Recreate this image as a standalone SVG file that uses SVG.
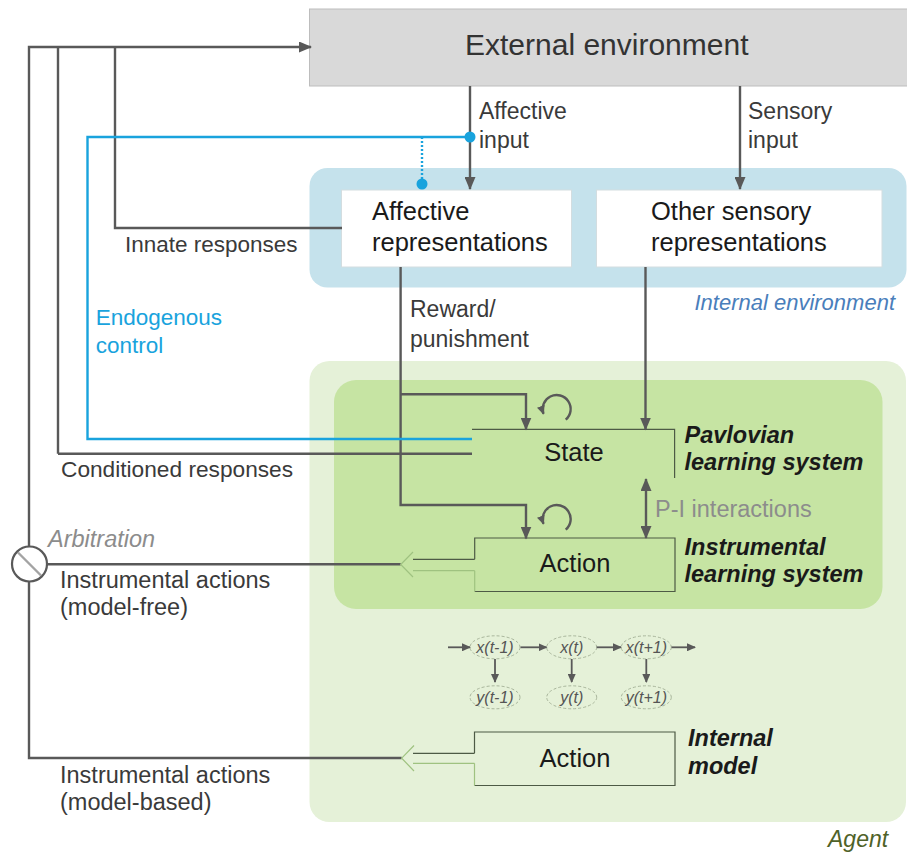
<svg xmlns="http://www.w3.org/2000/svg" width="907" height="857" viewBox="0 0 907 857">
<style>
text{font-family:"Liberation Sans",Arial,sans-serif;fill:#3a3a3a}
.lbl{font-size:23px}
.box{font-size:25.5px;fill:#1a1a1a}
.bi{font-size:23.5px;font-weight:bold;font-style:italic;fill:#1a1a1a}
.it{font-style:italic}
.conn{fill:none;stroke:#595959;stroke-width:2.4}
.blue{fill:none;stroke:#19a3dd;stroke-width:2.4}
.thin{fill:none;stroke:#4d5a45;stroke-width:1.2}
.light{fill:none;stroke:#9fc280;stroke-width:1.2}
.hmm{fill:none;stroke:#595959;stroke-width:1.8}
.ell{fill:none;stroke:#a9b69c;stroke-width:1;stroke-dasharray:3 2}
.ht{font-size:16px;font-style:italic;fill:#555;text-anchor:middle}
</style>
<defs>
<marker id="ah" markerUnits="userSpaceOnUse" markerWidth="13" markerHeight="11" refX="12" refY="5.5" orient="auto-start-reverse">
<path d="M0,0 L13,5.5 L0,11 z" fill="#595959"/>
</marker>
<marker id="ahs" markerUnits="userSpaceOnUse" markerWidth="9" markerHeight="8" refX="8" refY="4" orient="auto">
<path d="M0,0 L9,4 L0,8 z" fill="#595959"/>
</marker>
</defs>

<g id="external-environment">
<rect x="309.5" y="9" width="600" height="77" fill="#d9d9d9" stroke="#bdbdbd" stroke-width="1"/>
<text x="465" y="55" style="font-size:30px;fill:#333">External environment</text>
</g>

<g id="internal-environment">
<rect x="309.5" y="168" width="597" height="119.5" rx="18" fill="#c5e2ec"/>
<text x="895" y="310" class="it" style="font-size:22px;fill:#4a7ebb;text-anchor:end">Internal environment</text>
</g>

<g id="affective-representations">
<rect x="341.5" y="190" width="230" height="77" fill="#fff" stroke="#d3dde0" stroke-width="1"/>
<text x="372" y="220" class="box">Affective</text>
<text x="372" y="251" class="box">representations</text>
</g>

<g id="other-sensory-representations">
<rect x="596.5" y="190" width="285.5" height="77" fill="#fff" stroke="#d3dde0" stroke-width="1"/>
<text x="651" y="220" class="box">Other sensory</text>
<text x="651" y="251" class="box">representations</text>
</g>

<g id="agent">
<rect x="309.5" y="361" width="596.5" height="461" rx="20" fill="#e5f1d8"/>
<text x="828" y="847" class="it" style="font-size:23px;fill:#4f6228">Agent</text>
</g>

<g id="learning-systems">
<rect x="334" y="380" width="548.5" height="229" rx="22" fill="#c6e4a3"/>
</g>

<g id="state">
<path d="M472 429.3 H674.6 V478" class="thin"/>
<text x="574" y="461" class="box" text-anchor="middle">State</text>
<text x="684.5" y="442.7" class="bi">Pavlovian</text>
<text x="684.5" y="470" class="bi">learning system</text>
</g>

<g id="action-instrumental">
<path d="M474.7 559.3 V538 H675 V591.5 H474.7" class="thin"/>
<path d="M474.7 591.5 V570.7" class="light"/>
<text x="575" y="572" class="box" text-anchor="middle">Action</text>
<text x="684.5" y="555" class="bi">Instrumental</text>
<text x="684.5" y="581.7" class="bi">learning system</text>
</g>

<g id="action-model">
<path d="M474.5 753.3 V732 H675 V785.5 H474.5" class="thin"/>
<path d="M474.5 785.5 V763.3" class="light"/>
<text x="575" y="767" class="box" text-anchor="middle">Action</text>
<text x="688" y="745.7" class="bi">Internal</text>
<text x="688" y="774" class="bi">model</text>
</g>

<g id="internal-model-graph">
<ellipse cx="495" cy="647.3" rx="25" ry="11.5" class="ell"/>
<ellipse cx="571.7" cy="647.3" rx="25" ry="11.5" class="ell"/>
<ellipse cx="646.3" cy="647.3" rx="25" ry="11.5" class="ell"/>
<ellipse cx="495" cy="697.3" rx="25" ry="11.5" class="ell"/>
<ellipse cx="571.7" cy="697.3" rx="25" ry="11.5" class="ell"/>
<ellipse cx="646.3" cy="697.3" rx="25" ry="11.5" class="ell"/>
<text x="495" y="653" class="ht">x(t-1)</text>
<text x="571.7" y="653" class="ht">x(t)</text>
<text x="646.3" y="653" class="ht">x(t+1)</text>
<text x="495" y="703" class="ht">y(t-1)</text>
<text x="571.7" y="703" class="ht">y(t)</text>
<text x="646.3" y="703" class="ht">y(t+1)</text>
<path d="M448 647.3 H470" class="hmm" marker-end="url(#ahs)"/>
<path d="M520.5 647.3 H546.5" class="hmm" marker-end="url(#ahs)"/>
<path d="M596.7 647.3 H621" class="hmm" marker-end="url(#ahs)"/>
<path d="M671.5 647.3 H695" class="hmm" marker-end="url(#ahs)"/>
<path d="M495 659 V682" class="hmm" marker-end="url(#ahs)"/>
<path d="M571.7 659 V682" class="hmm" marker-end="url(#ahs)"/>
<path d="M646.3 659 V682" class="hmm" marker-end="url(#ahs)"/>
</g>

<g id="arbitration">
<circle cx="29.5" cy="564" r="17.5" fill="#fff" stroke="#595959" stroke-width="2.2"/>
<path d="M18 552.5 L41 575.5" stroke="#a3a3a3" stroke-width="2.4"/>
<text x="48" y="546.7" class="it" style="font-size:23.5px;fill:#8c8c8c">Arbitration</text>
</g>

<g id="connectors">
<path d="M29 546.5 V47 H311" class="conn" marker-end="url(#ah)"/>
<path d="M58 453.7 V47" class="conn"/>
<path d="M342 228 H115 V47" class="conn"/>
<path d="M472 453.7 H58" class="conn"/>
<path d="M29 581.5 V758 H401.7" class="conn"/>
<path d="M47 564.3 H400.7" class="conn"/>
<path d="M470 86 V189" class="conn" marker-end="url(#ah)"/>
<path d="M740 86 V189" class="conn" marker-end="url(#ah)"/>
<path d="M400.6 267 V505 H526 V538.5" class="conn" marker-end="url(#ah)"/>
<path d="M400.6 394.3 H526 V429.5" class="conn" marker-end="url(#ah)"/>
<path d="M645.5 267 V429.5" class="conn" marker-end="url(#ah)"/>
<path d="M646 479 V538" class="conn" marker-start="url(#ah)" marker-end="url(#ah)"/>
<path d="M565.7 419.7 A14 14 0 1 0 543.5 413.8" class="conn" marker-end="url(#ahs)"/>
<path d="M565.7 529.7 A14 14 0 1 0 543.5 523.8" class="conn" marker-end="url(#ahs)"/>
<path d="M413 559.3 H474.7" class="thin"/>
<path d="M413 570.7 H474.7" class="light"/>
<path d="M413 552 L400.7 564.5 L413 577" class="light"/>
<path d="M413 753.3 H474.5" class="thin"/>
<path d="M413 763.3 H474.5" class="light"/>
<path d="M414 745.5 L401.7 758.2 L414 771" class="light"/>
<path d="M472 439 H87.5 V137 H470" class="blue"/>
<path d="M422 137 V184" class="blue" stroke-dasharray="2 2"/>
<circle cx="470" cy="137" r="5.5" fill="#19a3dd"/>
<circle cx="422" cy="184" r="5.5" fill="#19a3dd"/>
</g>

<g id="labels">
<text x="479" y="119" class="lbl">Affective</text>
<text x="479" y="148" class="lbl">input</text>
<text x="748" y="119" class="lbl">Sensory</text>
<text x="748" y="148" class="lbl">input</text>
<text x="125" y="251.7" class="lbl" style="font-size:22.5px">Innate responses</text>
<text x="410" y="317" class="lbl">Reward/</text>
<text x="410" y="347" class="lbl">punishment</text>
<text x="95.7" y="325" class="lbl" style="font-size:22.5px;fill:#19a3dd">Endogenous</text>
<text x="95.7" y="352.7" class="lbl" style="font-size:22.5px;fill:#19a3dd">control</text>
<text x="61" y="476.7" class="lbl" style="font-size:22.7px">Conditioned responses</text>
<text x="655" y="517" class="lbl" style="font-size:23.5px;fill:#8c8c8c">P-I interactions</text>
<text x="60" y="588" class="lbl" style="font-size:23.5px">Instrumental actions</text>
<text x="60" y="615" class="lbl" style="font-size:23.5px">(model-free)</text>
<text x="60" y="783" class="lbl" style="font-size:23.5px">Instrumental actions</text>
<text x="60" y="810" class="lbl" style="font-size:23.5px">(model-based)</text>
</g>
</svg>
